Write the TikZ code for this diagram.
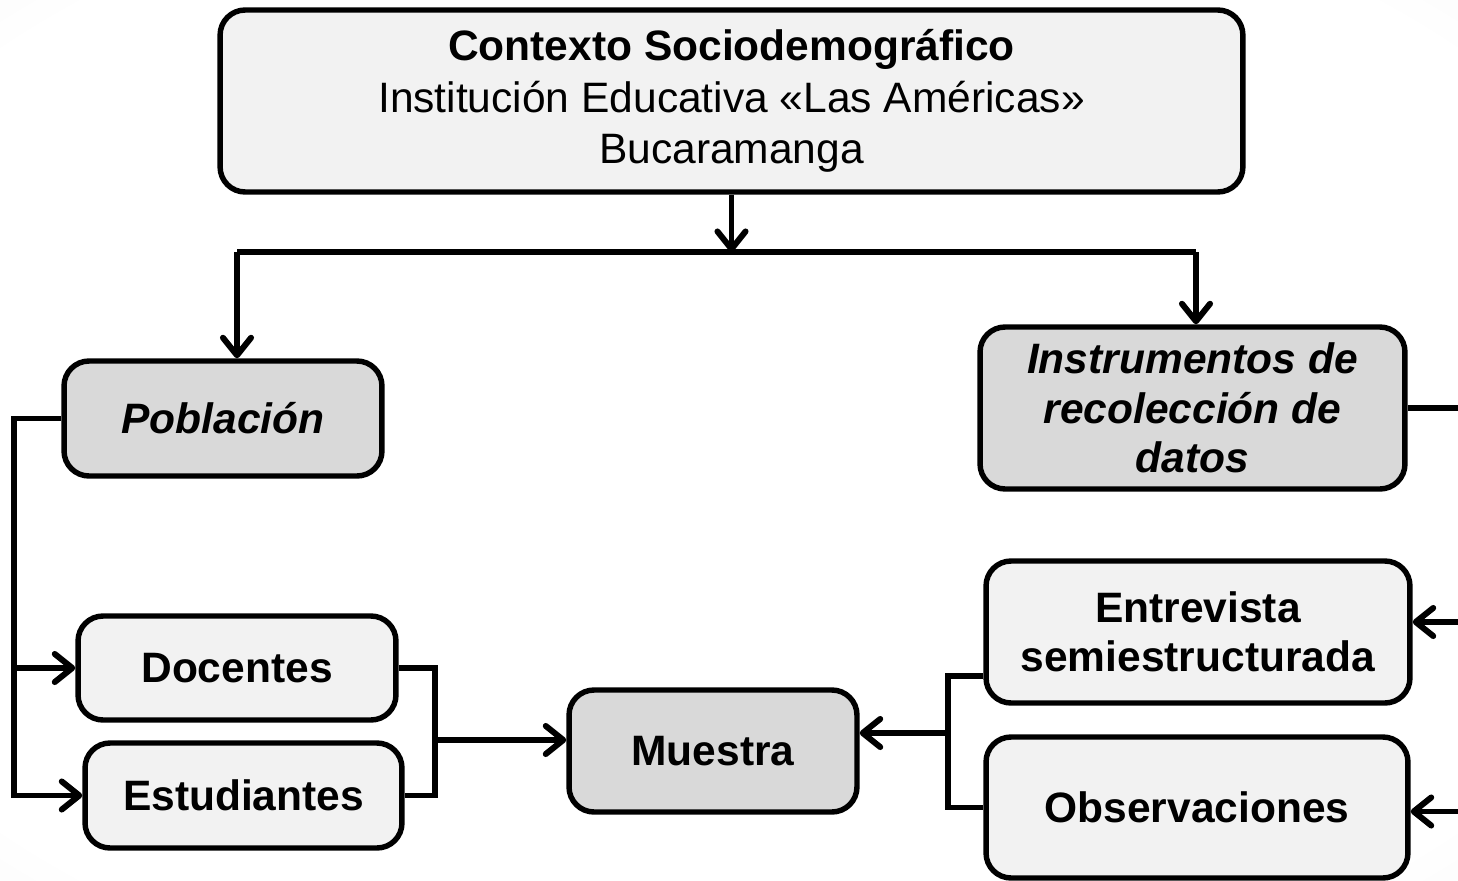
\documentclass[tikz,border=0pt]{standalone}
\usepackage{fontspec}
\setmainfont{Liberation Sans}
\usetikzlibrary{arrows.meta,calc}
\definecolor{boxlight}{HTML}{F2F2F2}
\definecolor{boxdark}{HTML}{D9D9D9}
\definecolor{bgedge}{HTML}{EEEEEE}
\pgfdeclareradialshading{bgshade}{\pgfpoint{0bp}{0bp}}{color(0bp)=(white); color(33bp)=(white); color(50bp)=(bgedge); color(72bp)=(bgedge)}
\tikzset{
  basebox/.style={draw=black, line width=3.1pt, rounded corners=0.5cm, inner sep=0pt, align=center,
    font=\fontsize{24.2}{29.2}\selectfont},
  lightbox/.style={basebox, fill=boxlight},
  darkbox/.style={basebox, fill=boxdark},
  conn/.style={draw=black, line width=3.1pt},
  arr/.style={conn, -{Straight Barb[length=10pt,width=16pt,line width=3.4pt,round]}},
}
\begin{document}
\begin{tikzpicture}[x=0.02cm,y=-0.02cm]
\clip (0,0) rectangle (1458,880);
\shade[shading=bgshade] (0,0) rectangle (1458,880);

\node[lightbox, minimum width=20.46cm, minimum height=3.64cm] (top) at (731.5,101)
  {\textbf{Contexto Sociodemográfico}\\Institución Educativa «Las Américas»\\Bucaramanga};
\node[darkbox, minimum width=6.36cm, minimum height=2.3cm] (pob) at (223,418.5)
  {\textbf{\textit{Población}}};
\node[darkbox, minimum width=8.5cm, minimum height=3.24cm] (inst) at (1192.5,408)
  {\textbf{\textit{Instrumentos de}}\\[-1pt]\textbf{\textit{recolección de}}\\[-1pt]\textbf{\textit{datos}}};
\node[lightbox, minimum width=6.36cm, minimum height=2.08cm] (doc) at (237,668)
  {\textbf{Docentes}};
\node[lightbox, minimum width=6.34cm, minimum height=2.1cm] (est) at (243.5,795.5)
  {\textbf{Estudiantes}};
\node[darkbox, minimum width=5.76cm, minimum height=2.44cm] (mue) at (713,751)
  {\textbf{Muestra}};
\node[lightbox, minimum width=8.48cm, minimum height=2.84cm] (ent) at (1198,632)
  {\textbf{Entrevista}\\[-1pt]\textbf{semiestructurada}};
\node[lightbox, minimum width=8.44cm, minimum height=2.82cm] (obs) at (1197,807.5)
  {\textbf{Observaciones}};

% top distribution bus
\coordinate (busL) at (237,252);
\coordinate (busR) at (1196,252);
\draw[conn] (busL) -- (busR);
\draw[arr] (top.south) -- (top.south |- busL);
\draw[arr] (busL) -- (busL |- pob.north);
\draw[arr] (busR) -- (busR |- inst.north);

% left bracket from Poblacion
\coordinate (L) at (14,0);
\draw[arr] (pob.west) -- (pob.west -| L) -- (L |- est.west) -- (est.west);
\draw[arr] (L |- doc.west) -- (doc.west);

% right side from Instrumentos (runs off the page)
\coordinate (R) at (1470,0);
\coordinate (entR) at ($(ent.east)+(0,-10)$);
\coordinate (obsR) at ($(obs.east)+(0,4)$);
\draw[conn] (inst.east) -- (inst.east -| R);
\draw[arr] (R |- entR) -- (entR);
\draw[arr] (R |- obsR) -- (obsR);

% Docentes / Estudiantes to Muestra
\coordinate (ML) at (435,0);
\draw[conn] (doc.east) -- (doc.east -| ML) -- (ML |- est.east) -- (est.east);
\coordinate (mueL) at ($(mue.west)+(0,-11)$);
\draw[arr] (ML |- mueL) -- (mueL);

% Entrevista / Observaciones to Muestra
\coordinate (MR) at (948,0);
\coordinate (entL) at ($(ent.west)+(0,44)$);
\draw[conn] (entL) -- (entL -| MR) -- (MR |- obs.west) -- (obs.west);
\coordinate (mueR) at ($(mue.east)+(0,-18)$);
\draw[arr] (MR |- mueR) -- (mueR);
\end{tikzpicture}
\end{document}
